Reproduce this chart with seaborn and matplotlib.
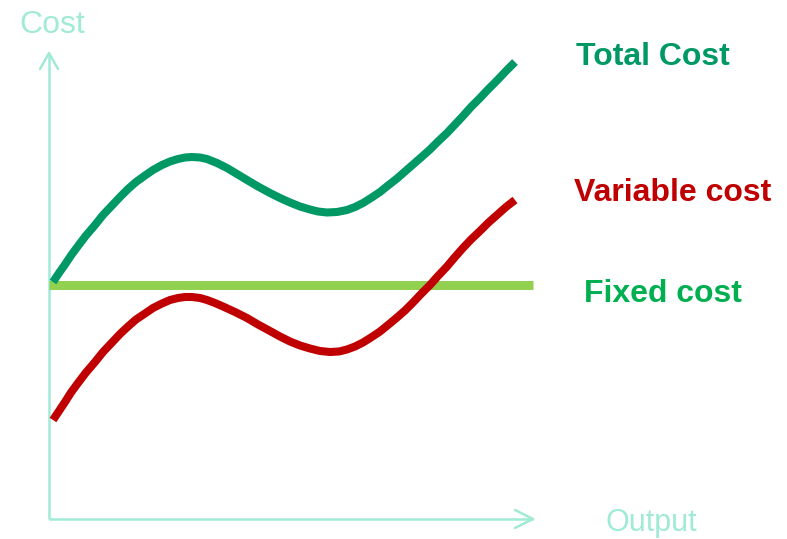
import matplotlib
matplotlib.use("Agg")
import matplotlib.pyplot as plt
import seaborn as sns
import pandas as pd

# ---- data (output units along x, cost units along y) ----
tc_x = [4, 10, 16, 22, 29, 37, 46, 54, 63, 71, 79, 87, 96, 104, 113, 121, 129, 136, 143, 151,
        158, 168, 178, 188, 198, 209, 221, 231, 241, 251, 261, 269, 278, 288, 298, 306, 314, 322,
        331, 339, 348, 356, 364, 372, 381, 389, 398, 406, 414, 422, 431, 439, 448, 457, 466]
tc_y = [237, 246, 254.5, 263.5, 273, 283.5, 294, 304, 313.5, 322, 330, 337, 343.5, 349, 354, 357.5,
        360, 361.5, 362, 361.5, 360, 356, 351, 345, 339, 332.5, 326, 321, 316.5, 312.5, 309.5,
        307.5, 306.5, 307, 309, 312, 316, 321, 327, 333.5, 340.5, 347.5, 354.5, 361.5, 369.5,
        377.5, 386, 394.5, 403, 412, 421, 429.5, 438.5, 448, 457]

vc_x = [4, 10, 16, 22, 29, 37, 46, 54, 63, 71, 79, 87, 96, 104, 113, 121, 129, 136, 143, 151,
        158, 166, 174, 186, 198, 209, 221, 231, 241, 251, 261, 271, 281, 290, 298, 306, 314, 322,
        331, 339, 348, 356, 364, 372, 381, 389, 398, 406, 414, 422, 431, 439, 448, 457, 466]
vc_y = [99, 108, 117, 126.5, 136, 146.5, 157, 167, 176.5, 185, 192.5, 199.5, 205.5, 211, 215.5,
        219, 221, 222, 222, 221, 219, 216, 212.5, 207, 201, 194.5, 188, 182.5, 177.5, 173.5,
        170.5, 168, 167, 167.5, 169.5, 172.5, 176.5, 181.5, 187.5, 194, 201.5, 208.5, 216.5,
        225, 234, 243, 252.5, 262, 271, 279.5, 288, 296, 304, 312, 319]

fc_x = [0, 484]
fc_y = [234, 234]

labels = ["Total Cost", "Variable cost", "Fixed cost"]
label_pos = [(604, 462), (624, 326), (614, 225)]

# ---- styling ----
TC_COL = "#009966"
VC_COL = "#C00000"
FC_COL = "#92D050"
FC_TXT = "#00B050"
AX_COL = "#A0EAD6"

sns.set_theme(style="white")
plt.rcParams["font.family"] = ["Liberation Sans", "DejaVu Sans"]

fig = plt.figure(figsize=(7.87, 5.39), dpi=100)
ax = fig.add_axes([0, 0, 1, 1])
ax.set_xlim(-49, 738)
ax.set_ylim(-20, 519)

# axes with open arrow heads
ax.plot([0, 0], [0, 466], color=AX_COL, lw=1.8, solid_capstyle="butt")
ax.plot([-9, 0, 9], [450, 466, 450], color=AX_COL, lw=1.8)
ax.plot([0, 484], [0, 0], color=AX_COL, lw=1.8, solid_capstyle="butt")
ax.plot([466, 484, 466], [9, 0, -9], color=AX_COL, lw=1.8)

df_fc = pd.DataFrame({"x": fc_x, "y": fc_y})
df_tc = pd.DataFrame({"x": tc_x, "y": tc_y})
df_vc = pd.DataFrame({"x": vc_x, "y": vc_y})

sns.lineplot(data=df_fc, x="x", y="y", ax=ax, color=FC_COL, lw=6.5,
             solid_capstyle="butt", estimator=None, sort=False)
sns.lineplot(data=df_vc, x="x", y="y", ax=ax, color=VC_COL, lw=5.8,
             solid_capstyle="butt", solid_joinstyle="round", estimator=None, sort=False)
sns.lineplot(data=df_tc, x="x", y="y", ax=ax, color=TC_COL, lw=5.8,
             solid_capstyle="butt", solid_joinstyle="round", estimator=None, sort=False)
ax.set_xlim(-49, 738)
ax.set_ylim(-20, 519)
ax.axis("off")

for txt, (x, y), col in zip(labels, label_pos, [TC_COL, VC_COL, FC_TXT]):
    ax.text(x, y, txt, color=col, fontsize=23, fontweight="bold",
            ha="center", va="center")

ax.text(3, 494, "Cost", color=AX_COL, fontsize=23, ha="center", va="center")
ax.text(602, -4.5, "Output", color=AX_COL, fontsize=22, ha="center", va="center")

fig.savefig("out.png", dpi=100)
